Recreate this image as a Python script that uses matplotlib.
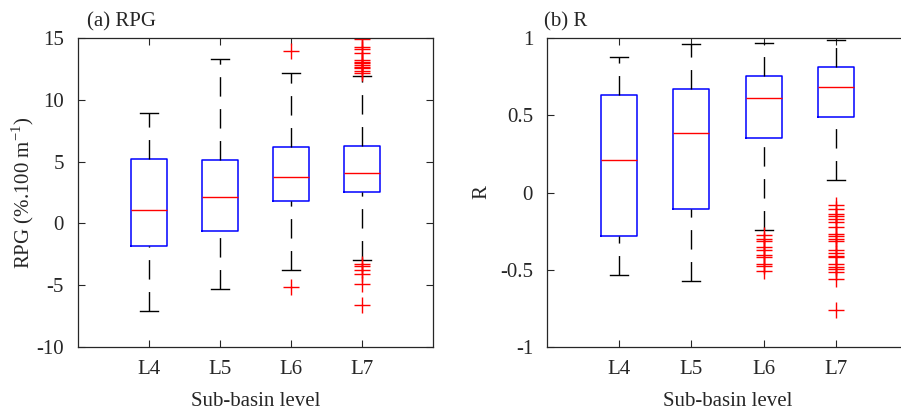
import matplotlib
matplotlib.use("Agg")
import matplotlib.pyplot as plt

plt.rcParams['font.family'] = ['Liberation Serif', 'DejaVu Serif']
plt.rcParams['mathtext.fontset'] = 'custom'
plt.rcParams['mathtext.rm'] = 'Liberation Serif'
plt.rcParams['axes.unicode_minus'] = False

levels = ["L4", "L5", "L6", "L7"]

# (a) RPG (%.100 m-1) box statistics
rpg_low = [-7.1, -5.3, -3.8, -2.95]
rpg_q1 = [-1.85, -0.6, 1.8, 2.5]
rpg_med = [1.1, 2.1, 3.75, 4.05]
rpg_q3 = [5.2, 5.15, 6.2, 6.25]
rpg_high = [8.9, 13.3, 12.2, 11.95]
rpg_out = [
    [],
    [],
    [13.95, -5.17],
    [14.95, 14.25, 14.09, 13.81, 13.22, 13.08, 12.95, 12.82, 12.68, 12.55,
     12.35, 12.19, -3.28, -3.45, -3.77, -4.09, -4.93, -6.6],
]

# (b) R box statistics
r_low = [-0.535, -0.574, -0.242, 0.078]
r_q1 = [-0.283, -0.106, 0.352, 0.49]
r_med = [0.209, 0.384, 0.613, 0.68]
r_q3 = [0.632, 0.669, 0.757, 0.811]
r_high = [0.876, 0.96, 0.969, 0.99]
r_out = [
    [],
    [],
    [-0.278, -0.30, -0.315, -0.354, -0.369, -0.403, -0.419, -0.461, -0.477, -0.509],
    [-0.078, -0.106, -0.138, -0.149, -0.170, -0.192, -0.225, -0.267, -0.283,
     -0.300, -0.315, -0.375, -0.393, -0.408, -0.419, -0.461, -0.479, -0.496,
     -0.516, -0.559, -0.759],
]

txt = '#262626'
fs = 15


def make_stats(low, q1, med, q3, high, out):
    stats = []
    for i in range(len(levels)):
        stats.append(dict(whislo=low[i], q1=q1[i], med=med[i], q3=q3[i],
                          whishi=high[i], fliers=out[i], label=levels[i]))
    return stats


def draw(ax, stats, ylim, yticks, yticklabels):
    bp = ax.bxp(stats, positions=[1, 2, 3, 4], widths=0.5, capwidths=0.25,
                boxprops=dict(color='blue', linewidth=1.1),
                medianprops=dict(color='red', linewidth=1.0),
                whiskerprops=dict(color='black', linewidth=1.0, linestyle=(0, (14, 9))),
                capprops=dict(color='black', linewidth=1.0),
                flierprops=dict(marker='+', markeredgecolor='red', markersize=12,
                                markeredgewidth=1.0, linestyle='none'))
    # dash pattern runs bottom-to-top on every whisker (as in the original)
    for w in bp['whiskers'][0::2]:
        w.set_data(w.get_xdata()[::-1], w.get_ydata()[::-1])
    ax.set_xlim(0, 5)
    ax.set_ylim(*ylim)
    ax.set_yticks(yticks)
    ax.set_yticklabels(yticklabels)
    ax.set_xticks([1, 2, 3, 4])
    ax.set_xticklabels(levels)
    ax.tick_params(axis='y', direction='in', length=5, width=0.8, pad=10,
                   labelsize=fs, colors=txt, right=True)
    ax.tick_params(axis='x', direction='in', length=5, width=0.8, pad=9,
                   labelsize=fs, colors=txt, top=True)
    for s in ax.spines.values():
        s.set_color(txt)
        s.set_linewidth(0.9)


fig = plt.figure(figsize=(9.01, 4.13), dpi=100)

ax1 = fig.add_axes([78 / 901, 66 / 413, 355 / 901, 309 / 413])
draw(ax1, make_stats(rpg_low, rpg_q1, rpg_med, rpg_q3, rpg_high, rpg_out),
     (-10, 15), [-10, -5, 0, 5, 10, 15], ['-10', '-5', '0', '5', '10', '15'])
ax1.set_ylabel(r'RPG (%.100 m$^{-1}$)', fontsize=fs, color=txt, labelpad=0)
ax1.set_xlabel('Sub-basin level', fontsize=fs, color=txt, labelpad=10)

ax2 = fig.add_axes([547 / 901, 66 / 413, 361 / 901, 309 / 413])
draw(ax2, make_stats(r_low, r_q1, r_med, r_q3, r_high, r_out),
     (-1, 1), [-1, -0.5, 0, 0.5, 1], ['-1', '-0.5', '0', '0.5', '1'])
ax2.set_ylabel('R', fontsize=fs, color=txt, labelpad=6)
ax2.set_xlabel('Sub-basin level', fontsize=fs, color=txt, labelpad=10)

fig.text(87 / 901, 1 - 22 / 413, '(a) RPG', fontsize=fs, color=txt, va='center', ha='left')
fig.text(544 / 901, 1 - 22 / 413, '(b) R', fontsize=fs, color=txt, va='center', ha='left')

fig.savefig('out.png', dpi=100)
